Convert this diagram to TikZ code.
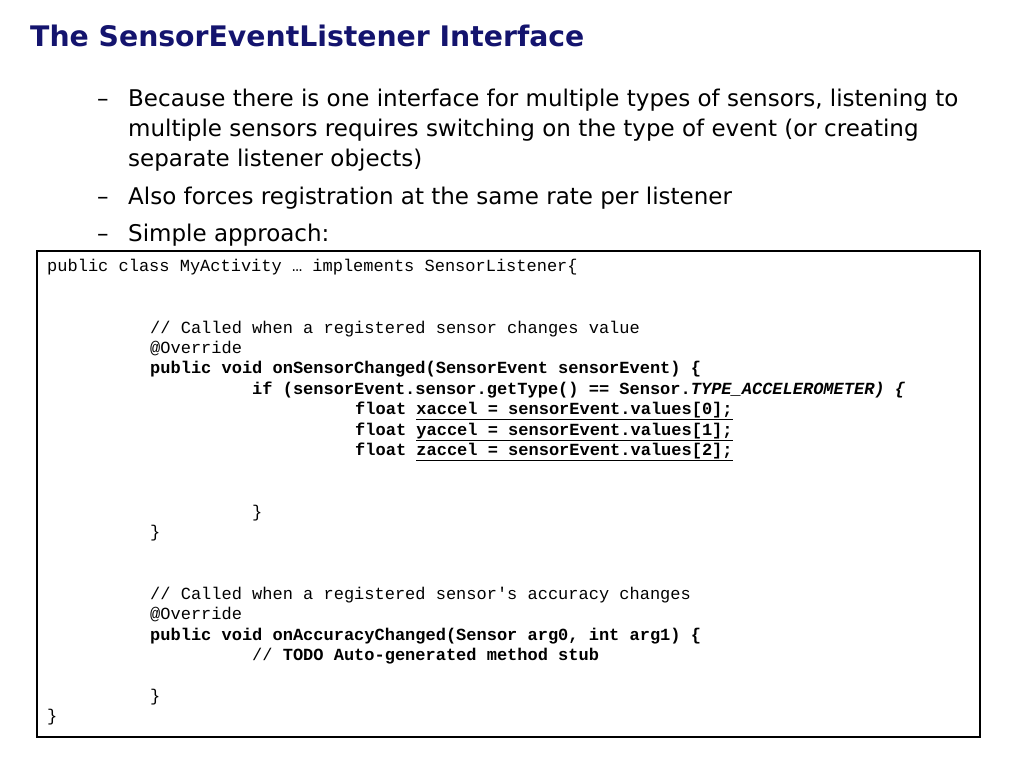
\documentclass[tikz,border=0pt]{standalone}
\usepackage{fontspec}
\setmainfont{DejaVu Sans}
\setmonofont{Liberation Mono}
\definecolor{navy}{RGB}{20,20,110}
\tikzset{
  bl/.style={anchor=base west,inner sep=0pt,font=\fontsize{23}{26}\selectfont},
  cd/.style={anchor=base west,inner sep=0pt,font=\fontsize{17}{20}\selectfont\ttfamily},
}
\begin{document}
\begin{tikzpicture}[x=1pt,y=-1pt]
\useasboundingbox (0,0) rectangle (1024,768);
\node[anchor=base west,inner sep=0pt,font=\fontsize{28.3}{32}\selectfont\bfseries,text=navy] (title) at (30,46) {The SensorEventListener Interface};
\node[bl] (d1) at (97,106) {–};
\node[bl] (t1) at (128,106) {Because there is one interface for multiple types of sensors, listening to};
\node[bl] (t1b) at (128,136) {multiple sensors requires switching on the type of event (or creating};
\node[bl] (t1c) at (128,166) {separate listener objects)};
\node[bl] (d2) at (97,204) {–};
\node[bl] (t2) at (128,204) {Also forces registration at the same rate per listener};
\node[bl] (d3) at (97,241) {–};
\node[bl] (t3) at (128,241) {Simple approach:};
\draw[line width=2.5pt,fill=white] (37,251) rectangle (980,737);
\node[cd] (c1) at (47,271) {public class MyActivity … implements SensorListener\{};
\node[cd] (c2) at (150,333) {// Called when a registered sensor changes value};
\node[cd] (c3) at (150,353) {@Override};
\node[cd] (c4) at (150,373) {\bfseries public void onSensorChanged(SensorEvent sensorEvent) \{};
\node[cd] (c5) at (252,394) {\bfseries if (sensorEvent.sensor.getType() == Sensor.\itshape TYPE\_ACCELEROMETER) \{};
\node[cd] (c6) at (355,414) {\bfseries float \underline{xaccel = sensorEvent.values[0];}};
\node[cd] (c7) at (355,435) {\bfseries float \underline{yaccel = sensorEvent.values[1];}};
\node[cd] (c8) at (355,455) {\bfseries float \underline{zaccel = sensorEvent.values[2];}};
\node[cd] (c9) at (252,517) {\}};
\node[cd] (c10) at (150,537) {\}};
\node[cd] (c11) at (150,599) {// Called when a registered sensor's accuracy changes};
\node[cd] (c12) at (150,619) {@Override};
\node[cd] (c13) at (150,640) {\bfseries public void onAccuracyChanged(Sensor arg0, int arg1) \{};
\node[cd] (c14) at (252,660) {// \bfseries TODO Auto-generated method stub};
\node[cd] (c15) at (150,701) {\}};
\node[cd] (c16) at (47,721) {\}};
\end{tikzpicture}
\end{document}
